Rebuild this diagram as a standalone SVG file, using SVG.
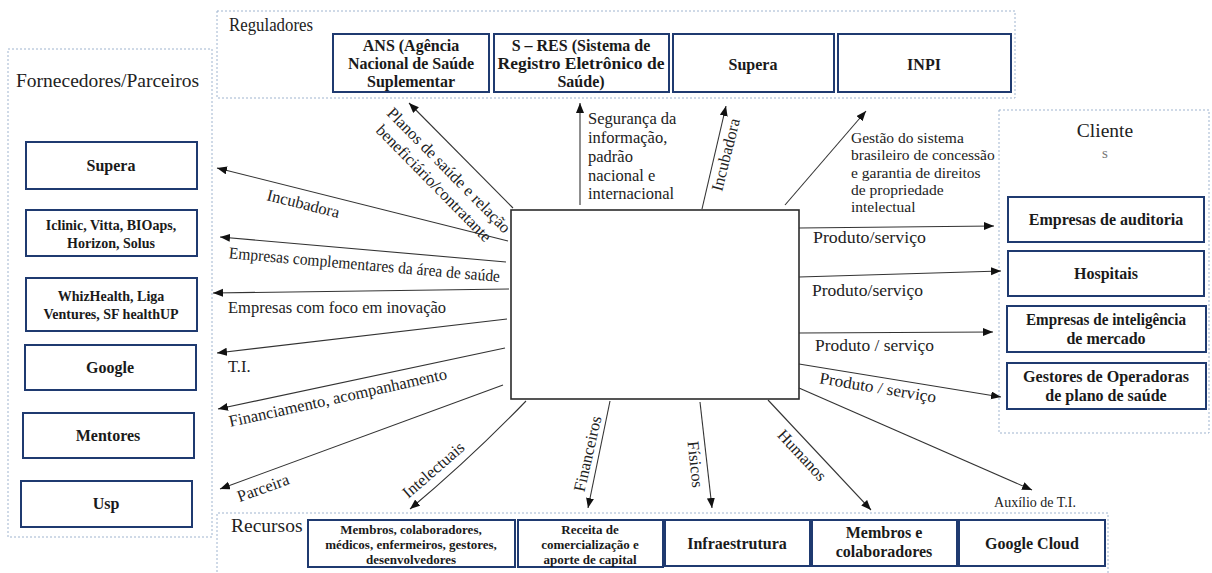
<svg xmlns="http://www.w3.org/2000/svg" width="1212" height="573" viewBox="0 0 1212 573">
  <style>
    .bg { fill: #ffffff; }
    .zone { fill: none; stroke: #9fb4cf; stroke-width: 1; stroke-dasharray: 2 2; }
    .box { fill: #ffffff; stroke: #1f3a70; stroke-width: 2; }
    .core { fill: #ffffff; stroke: #2b2b2b; stroke-width: 1.6; }
    .zt { font-family: "Liberation Serif", serif; font-size: 19.5px; fill: #222; }
    .bt { font-family: "Liberation Serif", serif; font-size: 16px; font-weight: bold; fill: #1a1a1a; text-anchor: middle; }
    .bm { font-family: "Liberation Serif", serif; font-size: 14px; font-weight: bold; fill: #1a1a1a; text-anchor: middle; }
    .bs { font-family: "Liberation Serif", serif; font-size: 13px; font-weight: bold; fill: #1a1a1a; text-anchor: middle; }
    .lb { font-family: "Liberation Serif", serif; font-size: 16.5px; fill: #222; }
    .lm { font-family: "Liberation Serif", serif; font-size: 16.5px; fill: #222; text-anchor: middle; }
    .ls { font-family: "Liberation Serif", serif; font-size: 15.5px; fill: #222; }
    .edge { fill: none; stroke: #333; stroke-width: 1.1; marker-end: url(#arrow); }
  </style>
  <defs>
    <marker id="arrow" markerUnits="userSpaceOnUse" markerWidth="11" markerHeight="9" refX="10" refY="4" orient="auto">
      <path d="M0,0 L10,4 L0,8 z" fill="#111"/>
    </marker>
  </defs>

  <rect class="bg" x="0" y="0" width="1212" height="573"/>

  <!-- group frames -->
  <g id="zones">
    <rect class="zone" x="217" y="11" width="798" height="87"/>
    <rect class="zone" x="8" y="49" width="204" height="488"/>
    <rect class="zone" x="999" y="110" width="210" height="323"/>
    <path class="zone" d="M217,580 V513 H1108 V580"/>
    <text class="zt" x="229" y="31" textLength="84" lengthAdjust="spacingAndGlyphs">Reguladores</text>
    <text class="zt" x="16" y="87">Fornecedores/Parceiros</text>
    <text class="zt" x="1105" y="137" text-anchor="middle">Cliente</text>
    <text x="1105" y="158" text-anchor="middle" font-family="Liberation Serif, serif" font-size="15" fill="#777">s</text>
    <text class="zt" x="231" y="532">Recursos</text>
  </g>

  <!-- central company -->
  <g id="core">
    <rect class="core" x="511" y="210" width="288" height="189"/>
  </g>

  <!-- regulators -->
  <g id="reg-ans">
    <rect class="box" x="333" y="34" width="156" height="58"/>
    <text class="bt" x="411" y="51">ANS (Agência</text>
    <text class="bt" x="411" y="69">Nacional de Saúde</text>
    <text class="bt" x="411" y="87">Suplementar</text>
  </g>
  <g id="reg-sres">
    <rect class="box" x="494" y="34" width="175" height="58"/>
    <text class="bt" x="581" y="51">S – RES (Sistema de</text>
    <text class="bt" x="581" y="69" textLength="167" lengthAdjust="spacingAndGlyphs">Registro Eletrônico de</text>
    <text class="bt" x="581" y="87">Saúde)</text>
  </g>
  <g id="reg-supera">
    <rect class="box" x="673" y="34" width="161" height="58"/>
    <text class="bt" x="753" y="70">Supera</text>
  </g>
  <g id="reg-inpi">
    <rect class="box" x="838" y="34" width="173" height="58"/>
    <text class="bt" x="924" y="70">INPI</text>
  </g>

  <!-- suppliers / partners -->
  <g id="sup-supera">
    <rect class="box" x="26" y="142" width="171" height="47"/>
    <text class="bt" x="111" y="171">Supera</text>
  </g>
  <g id="sup-iclinic">
    <rect class="box" x="26" y="210" width="171" height="46"/>
    <text class="bm" x="111" y="230">Iclinic, Vitta, BIOaps,</text>
    <text class="bm" x="111" y="248">Horizon, Solus</text>
  </g>
  <g id="sup-whiz">
    <rect class="box" x="26" y="278" width="171" height="53"/>
    <text class="bm" x="111" y="301">WhizHealth, Liga</text>
    <text class="bm" x="111" y="319">Ventures, SF healthUP</text>
  </g>
  <g id="sup-google">
    <rect class="box" x="25" y="345" width="171" height="45"/>
    <text class="bt" x="110" y="373">Google</text>
  </g>
  <g id="sup-mentores">
    <rect class="box" x="23" y="413" width="171" height="45"/>
    <text class="bt" x="108" y="441">Mentores</text>
  </g>
  <g id="sup-usp">
    <rect class="box" x="21" y="481" width="171" height="46"/>
    <text class="bt" x="106" y="509">Usp</text>
  </g>

  <!-- clients -->
  <g id="cli-auditoria">
    <rect class="box" x="1008" y="197" width="196" height="45"/>
    <text class="bt" x="1106" y="225">Empresas de auditoria</text>
  </g>
  <g id="cli-hospitais">
    <rect class="box" x="1008" y="251" width="196" height="45"/>
    <text class="bt" x="1106" y="279">Hospitais</text>
  </g>
  <g id="cli-inteligencia">
    <rect class="box" x="1007" y="306" width="199" height="46"/>
    <text class="bt" x="1106" y="325" textLength="160" lengthAdjust="spacingAndGlyphs">Empresas de inteligência</text>
    <text class="bt" x="1106" y="344">de mercado</text>
  </g>
  <g id="cli-gestores">
    <rect class="box" x="1007" y="363" width="199" height="46"/>
    <text class="bt" x="1106" y="382" textLength="166" lengthAdjust="spacingAndGlyphs">Gestores de Operadoras</text>
    <text class="bt" x="1106" y="401">de plano de saúde</text>
  </g>

  <!-- resources -->
  <g id="res-pessoas">
    <rect class="box" x="308" y="520" width="207" height="47"/>
    <text class="bs" x="411" y="534">Membros, colaboradores,</text>
    <text class="bs" x="411" y="549">médicos, enfermeiros, gestores,</text>
    <text class="bs" x="411" y="564">desenvolvedores</text>
  </g>
  <g id="res-receita">
    <rect class="box" x="518" y="520" width="145" height="47"/>
    <text class="bs" x="590" y="534">Receita de</text>
    <text class="bs" x="590" y="549">comercialização e</text>
    <text class="bs" x="590" y="564">aporte de capital</text>
  </g>
  <g id="res-infra">
    <rect class="box" x="665" y="520" width="145" height="46"/>
    <text class="bt" x="737" y="549">Infraestrutura</text>
  </g>
  <g id="res-membros">
    <rect class="box" x="812" y="520" width="145" height="46"/>
    <text class="bt" x="884" y="538">Membros e</text>
    <text class="bt" x="884" y="557">colaboradores</text>
  </g>
  <g id="res-cloud">
    <rect class="box" x="959" y="520" width="146" height="46"/>
    <text class="bt" x="1032" y="549">Google Cloud</text>
  </g>

  <!-- connectors -->
  <g id="connectors">
    <line class="edge" x1="513" y1="208" x2="409" y2="103"/>
    <line class="edge" x1="580" y1="205" x2="580" y2="103"/>
    <line class="edge" x1="702" y1="209" x2="726" y2="106"/>
    <line class="edge" x1="785" y1="205" x2="866" y2="111"/>
    <line class="edge" x1="508" y1="241" x2="217" y2="168"/>
    <line class="edge" x1="506" y1="262" x2="220" y2="237"/>
    <line class="edge" x1="509" y1="289" x2="213" y2="293"/>
    <line class="edge" x1="507" y1="319" x2="217" y2="353"/>
    <line class="edge" x1="505" y1="348" x2="218" y2="409"/>
    <line class="edge" x1="503" y1="385" x2="220" y2="489"/>
    <path class="edge" d="M526,401 Q470,459 410,509"/>
    <line class="edge" x1="610" y1="401" x2="588" y2="508"/>
    <line class="edge" x1="700" y1="402" x2="712" y2="508"/>
    <line class="edge" x1="768" y1="400" x2="871" y2="510"/>
    <line class="edge" x1="799" y1="388" x2="1032" y2="490"/>
    <line class="edge" x1="799" y1="364" x2="1001" y2="397"/>
    <line class="edge" x1="799" y1="333" x2="993" y2="332"/>
    <line class="edge" x1="799" y1="277" x2="1001" y2="271"/>
    <line class="edge" x1="799" y1="228" x2="994" y2="226"/>

    <!-- connector labels -->
    <text class="lm" font-size="16" transform="translate(445,174) rotate(45.5)">Planos de saúde e relação</text>
    <text class="lm" font-size="16" transform="translate(430,187) rotate(45.5)">beneficiário/contratante</text>
    <text class="lb" font-size="17" x="588" y="124">Segurança da</text>
    <text class="lb" font-size="17" x="588" y="143">informação,</text>
    <text class="lb" font-size="17" x="588" y="162">padrão</text>
    <text class="lb" font-size="17" x="588" y="181">nacional e</text>
    <text class="lb" font-size="17" x="588" y="199">internacional</text>
    <text class="lm" transform="translate(731,156) rotate(-76)">Incubadora</text>
    <text class="ls" x="851" y="143">Gestão do sistema</text>
    <text class="ls" x="851" y="160">brasileiro de concessão</text>
    <text class="ls" x="851" y="178">e garantia de direitos</text>
    <text class="ls" x="851" y="195">de propriedade</text>
    <text class="ls" x="851" y="212">intelectual</text>
    <text class="lm" transform="translate(302,209) rotate(14)">Incubadora</text>
    <text class="lm" transform="translate(364,270) rotate(5)" textLength="272" lengthAdjust="spacingAndGlyphs">Empresas complementares da área de saúde</text>
    <text class="lb" x="228" y="313">Empresas com foco em inovação</text>
    <text class="lb" x="228" y="372">T.I.</text>
    <text class="lm" transform="translate(339,403) rotate(-12.5)">Financiamento, acompanhamento</text>
    <text class="lm" transform="translate(265,493) rotate(-20)">Parceira</text>
    <text class="lm" transform="translate(437,474) rotate(-41)">Intelectuais</text>
    <text class="lm" transform="translate(593,455) rotate(-77)">Financeiros</text>
    <text class="lm" transform="translate(690,465) rotate(84)">Físicos</text>
    <text class="lm" transform="translate(798,459) rotate(47)">Humanos</text>
    <text x="1035" y="507" text-anchor="middle" font-family="Liberation Serif, serif" font-size="14" fill="#222">Auxílio de T.I.</text>
    <text class="lm" transform="translate(877,393) rotate(9.5)" textLength="118" lengthAdjust="spacingAndGlyphs">Produto / serviço</text>
    <text class="lb" x="815" y="351" textLength="119" lengthAdjust="spacingAndGlyphs">Produto / serviço</text>
    <text class="lb" x="812" y="296" textLength="111" lengthAdjust="spacingAndGlyphs">Produto/serviço</text>
    <text class="lb" x="813" y="243" textLength="113" lengthAdjust="spacingAndGlyphs">Produto/serviço</text>
  </g>
</svg>
